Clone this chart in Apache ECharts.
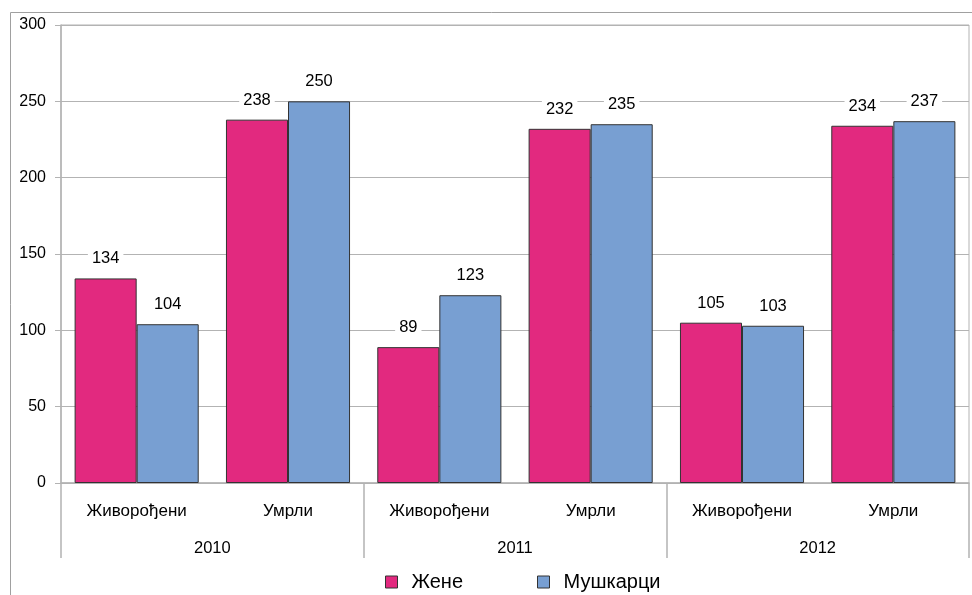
<!DOCTYPE html>
<html>
<head>
<meta charset="utf-8">
<script src="https://cdn.jsdelivr.net/npm/echarts@6/dist/echarts.min.js"></script>
<style>
html,body{margin:0;padding:0;background:#fff;}
#chart{width:972px;height:595px;}
</style>
</head>
<body>
<div id="chart"></div>
<script>
var categories = ['Живорођени', 'Умрли', 'Живорођени', 'Умрли', 'Живорођени', 'Умрли'];
var years = ['2010', '2011', '2012'];
var seriesNames = ['Жене', 'Мушкарци'];
var zene = [134, 238, 89, 232, 105, 234];
var muskarci = [104, 250, 123, 235, 103, 237];
var yTicks = [0, 50, 100, 150, 200, 250, 300];

var FONT = "'Liberation Sans', Arial, sans-serif";
var chart = echarts.init(document.getElementById('chart'), null, {renderer: 'canvas'});
var labelStyle = {
  show: true, position: 'top', distance: 10,
  fontFamily: FONT, fontSize: 16.5, color: '#000',
  backgroundColor: '#fff', padding: [1, 4]
};
chart.setOption({
  animation: false,
  textStyle: {fontFamily: FONT},
  graphic: [{
    type: 'rect', silent: true, z: -10,
    shape: {x: 10.5, y: 12.5, width: 1000, height: 1000},
    style: {fill: 'none', stroke: '#a0a0a0', lineWidth: 1}
  }],
  grid: {left: 61, right: 3, top: 25, bottom: 112, show: true, borderColor: '#b3b3b3', borderWidth: 1},
  legend: {
    top: 567, left: 380,
    itemWidth: 12, itemHeight: 12, itemGap: 74,
    icon: 'rect',
    itemStyle: {borderColor: '#333', borderWidth: 1},
    textStyle: {fontFamily: FONT, fontSize: 20, color: '#000', padding: [0, 0, 0, 9]},
    data: seriesNames
  },
  xAxis: [{
    type: 'category', data: categories, position: 'bottom',
    axisLine: {lineStyle: {color: '#b3b3b3', width: 1.5}},
    axisTick: {show: false},
    axisLabel: {margin: 20, fontFamily: FONT, fontSize: 17, color: '#000', interval: 0}
  }, {
    type: 'category', data: years, position: 'bottom',
    axisLine: {show: false},
    axisTick: {show: true, length: 75, lineStyle: {color: '#b3b3b3', width: 1.5}},
    axisLabel: {margin: 57, fontFamily: FONT, fontSize: 16.5, color: '#000'},
    splitLine: {show: false}
  }],
  yAxis: {
    type: 'value', min: yTicks[0], max: yTicks[yTicks.length - 1], interval: 50,
    axisLine: {show: true, lineStyle: {color: '#b3b3b3', width: 1.5}},
    axisTick: {show: true, length: 6, lineStyle: {color: '#b3b3b3'}},
    axisLabel: {margin: 15, fontFamily: FONT, fontSize: 16, color: '#000'},
    splitLine: {lineStyle: {color: '#b3b3b3', width: 1}}
  },
  series: [{
    name: seriesNames[0], type: 'bar', data: zene, xAxisIndex: 0,
    barGap: '0%', barCategoryGap: '18%',
    itemStyle: {color: '#E2297F', borderColor: '#333', borderWidth: 1},
    label: labelStyle
  }, {
    name: seriesNames[1], type: 'bar', data: muskarci, xAxisIndex: 0,
    barGap: '0%', barCategoryGap: '18%',
    itemStyle: {color: '#789FD2', borderColor: '#333', borderWidth: 1},
    label: labelStyle
  }]
});
</script>
</body>
</html>
